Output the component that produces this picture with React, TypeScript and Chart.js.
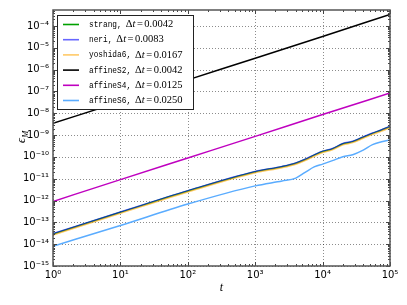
import React, { useEffect, useRef } from "react";
import { Chart, registerables } from "chart.js";

Chart.register(...registerables);

// ---- data ----
const T = [1, 10, 100, 1000, 2500, 4000, 5500, 7500, 10000, 14000, 20000, 28000, 40000, 55000, 75000, 100000];
const T_DECADES = [1, 10, 100, 1000, 10000, 100000];

const strang = [2.95e-14, 2.88e-13, 2.75e-12, 2.09e-11, 3.55e-11, 5.13e-11, 7.59e-11, 1.2e-10, 1.78e-10, 2.34e-10, 3.98e-10, 5.01e-10, 7.94e-10, 1.2e-9, 1.7e-9, 2.45e-9];
const neri = [3.05e-14, 2.97e-13, 2.84e-12, 2.16e-11, 3.66e-11, 5.29e-11, 7.83e-11, 1.24e-10, 1.84e-10, 2.42e-10, 4.11e-10, 5.17e-10, 8.19e-10, 1.24e-9, 1.75e-9, 2.53e-9];
const yoshida6 = [2.65e-14, 2.58e-13, 2.46e-12, 1.87e-11, 3.18e-11, 4.6e-11, 6.8e-11, 1.07e-10, 1.6e-10, 2.1e-10, 3.57e-10, 4.5e-10, 7.12e-10, 1.08e-9, 1.52e-9, 2.2e-9];
const affineS2 = [3.47e-9, 3.39e-8, 3.39e-7, 3.31e-6, 3.31e-5, 3.39e-4];
const affineS4 = [9.1e-13, 9.1e-12, 8.9e-11, 8.7e-10, 8.7e-9, 8.5e-8];
const affineS6 = [8.1e-15, 7.2e-14, 6.9e-13, 4.7e-12, 7.9e-12, 1.07e-11, 1.95e-11, 3.47e-11, 4.68e-11, 6.76e-11, 1.02e-10, 1.26e-10, 2.04e-10, 3.63e-10, 4.9e-10, 6.03e-10];

const NAMES = ["strang", "neri", "yoshida6", "affineS2", "affineS4", "affineS6"];
const DTS = ["0.0042", "0.0083", "0.0167", "0.0042", "0.0125", "0.0250"];
const COLORS = ["#00a000", "rgba(0,0,255,0.6)", "rgba(255,165,0,0.6)", "#000000", "#bf00bf", "#5aacff"];

const X_MIN = 1;
const X_MAX = 1e5;
const Y_MIN = 1e-15;
const Y_MAX = 5.4e-4;
const X_EXPS = [0, 1, 2, 3, 4, 5];
const Y_EXPS = [-15, -14, -13, -12, -11, -10, -9, -8, -7, -6, -5, -4];

const SUP: Record<string, string> = {
  "-": "\u207B", "0": "\u2070", "1": "\u00B9", "2": "\u00B2", "3": "\u00B3", "4": "\u2074",
  "5": "\u2075", "6": "\u2076", "7": "\u2077", "8": "\u2078", "9": "\u2079",
};
const supStr = (n: number) => String(n).split("").map((c) => SUP[c] || c).join("");

const decorPlugin = {
  id: "decor",
  beforeDatasetsDraw(chart: any) {
    const { ctx, chartArea: a, scales } = chart;
    const xs = scales.x, ys = scales.y;
    ctx.save();
    ctx.strokeStyle = "rgba(0,0,0,0.45)";
    ctx.lineWidth = 1;
    ctx.setLineDash([1, 2]);
    for (const e of X_EXPS) {
      const x = Math.round(xs.getPixelForValue(Math.pow(10, e))) + 0.5;
      ctx.beginPath(); ctx.moveTo(x, a.top); ctx.lineTo(x, a.bottom); ctx.stroke();
    }
    for (const e of Y_EXPS) {
      const y = Math.round(ys.getPixelForValue(Math.pow(10, e))) + 0.5;
      ctx.beginPath(); ctx.moveTo(a.left, y); ctx.lineTo(a.right, y); ctx.stroke();
    }
    ctx.restore();
  },
  afterDraw(chart: any) {
    const { ctx, chartArea: a, scales } = chart;
    const xs = scales.x, ys = scales.y;
    ctx.save();
    ctx.strokeStyle = "#444";
    ctx.lineWidth = 1;
    ctx.setLineDash([]);
    const tick = (x1: number, y1: number, x2: number, y2: number) => {
      ctx.beginPath(); ctx.moveTo(x1, y1); ctx.lineTo(x2, y2); ctx.stroke();
    };
    for (let e = 0; e <= 5; e++) {
      for (let k = 1; k <= 9; k++) {
        const v = k * Math.pow(10, e);
        if (v > X_MAX) break;
        const x = Math.round(xs.getPixelForValue(v)) + 0.5;
        const L = k === 1 ? 4 : 2;
        tick(x, a.bottom, x, a.bottom - L);
        tick(x, a.top, x, a.top + L);
      }
    }
    for (let e = -15; e <= -4; e++) {
      for (let k = 1; k <= 9; k++) {
        const v = k * Math.pow(10, e);
        if (v > Y_MAX) break;
        const y = Math.round(ys.getPixelForValue(v)) + 0.5;
        const L = k === 1 ? 4 : 2;
        tick(a.left, y, a.left + L, y);
        tick(a.right, y, a.right - L, y);
      }
    }
    ctx.strokeStyle = "#555";
    ctx.lineWidth = 1.5;
    ctx.strokeRect(a.left, a.top, a.right - a.left, a.bottom - a.top);

    // legend
    const lx = a.left + 4, ly = a.top + 5, lw = 136, lh = 94;
    ctx.fillStyle = "#fff";
    ctx.fillRect(lx, ly, lw, lh);
    ctx.strokeStyle = "#222";
    ctx.lineWidth = 1;
    ctx.strokeRect(lx + 0.5, ly + 0.5, lw, lh);
    ctx.textBaseline = "middle";
    for (let i = 0; i < NAMES.length; i++) {
      const ry = ly + 9.5 + i * 15.2;
      ctx.strokeStyle = COLORS[i];
      ctx.lineWidth = 1.6;
      tick(lx + 6, ry, lx + 22, ry);
      ctx.fillStyle = "#000";
      let x = lx + 32;
      const nm = NAMES[i] + ",";
      ctx.font = "9.5px 'Liberation Mono'";
      const sx = 0.82;
      ctx.save();
      ctx.translate(x, ry);
      ctx.scale(sx, 1);
      ctx.fillText(nm, 0, 0);
      ctx.restore();
      x += ctx.measureText(nm).width * sx + 4;
      ctx.font = "10.5px 'Liberation Serif'";
      ctx.fillText("\u0394", x, ry);
      x += ctx.measureText("\u0394").width;
      ctx.font = "italic 10.5px 'Liberation Serif'";
      ctx.fillText("t", x, ry);
      x += ctx.measureText("t").width + 1.5;
      ctx.font = "10.5px 'Liberation Serif'";
      ctx.fillText("=", x, ry);
      x += ctx.measureText("=").width + 1.5;
      ctx.fillText(DTS[i], x, ry);
    }

    // axis titles
    ctx.fillStyle = "#000";
    ctx.textBaseline = "alphabetic";
    ctx.font = "italic 12px 'Liberation Serif'";
    ctx.textAlign = "center";
    ctx.fillText("t", (a.left + a.right) / 2, 291);
    ctx.save();
    ctx.translate(25, (a.top + a.bottom) / 2 + 5);
    ctx.rotate(-Math.PI / 2);
    ctx.textAlign = "left";
    ctx.font = "italic 12px 'Liberation Serif'";
    ctx.fillText("\u03F5", 0, 0);
    const w = ctx.measureText("\u03F5").width;
    ctx.font = "italic 8.5px 'Liberation Serif'";
    ctx.fillText("M", w + 0.5, 3);
    ctx.restore();
    ctx.restore();
  },
};

export default function App() {
  const ref = useRef<HTMLCanvasElement | null>(null);
  useEffect(() => {
    if (!ref.current) return;
    const mk = (xs: number[], ys: number[]) => xs.map((x, i) => ({ x, y: ys[i] }));
    const series = [
      mk(T, strang), mk(T, neri), mk(T, yoshida6),
      mk(T_DECADES, affineS2), mk(T_DECADES, affineS4), mk(T, affineS6),
    ];
    const chart = new Chart(ref.current, {
      type: "line",
      data: {
        datasets: series.map((d, i) => ({
          label: NAMES[i],
          data: d,
          borderColor: COLORS[i],
          backgroundColor: COLORS[i],
          borderWidth: 1.5,
          pointRadius: 0,
          fill: false,
          cubicInterpolationMode: "monotone" as const,
          order: 10 - i,
        })),
      },
      plugins: [decorPlugin],
      options: {
        animation: false,
        responsive: false,
        layout: { padding: { left: 0, right: 17, top: 9, bottom: 0 } },
        plugins: { legend: { display: false }, tooltip: { enabled: false } },
        scales: {
          x: {
            type: "logarithmic",
            min: X_MIN,
            max: X_MAX,
            grid: { display: false, drawTicks: false },
            border: { display: false },
            afterBuildTicks: (s: any) => { s.ticks = X_EXPS.map((e) => ({ value: Math.pow(10, e) })); },
            afterFit: (s: any) => { s.height = 39; },
            ticks: {
              padding: 3,
              maxRotation: 0,
              autoSkip: false,
              color: "#000",
              font: { family: "'DejaVu Sans'", size: 10 },
              callback: (v: any) => "10" + supStr(Math.round(Math.log10(Number(v)))),
            },
          },
          y: {
            type: "logarithmic",
            min: Y_MIN,
            max: Y_MAX,
            grid: { display: false, drawTicks: false },
            border: { display: false },
            afterBuildTicks: (s: any) => { s.ticks = Y_EXPS.map((e) => ({ value: Math.pow(10, e) })); },
            afterFit: (s: any) => { s.width = 53; },
            ticks: {
              padding: 4,
              autoSkip: false,
              color: "#000",
              font: { family: "'DejaVu Sans'", size: 10 },
              callback: (v: any) => "10" + supStr(Math.round(Math.log10(Number(v)))),
            },
          },
        },
      },
    } as any);
    return () => chart.destroy();
  }, []);
  return (
    <canvas
      ref={ref}
      width={407}
      height={305}
      style={{ position: "absolute", left: 0, top: 0, display: "block" }}
    />
  );
}
